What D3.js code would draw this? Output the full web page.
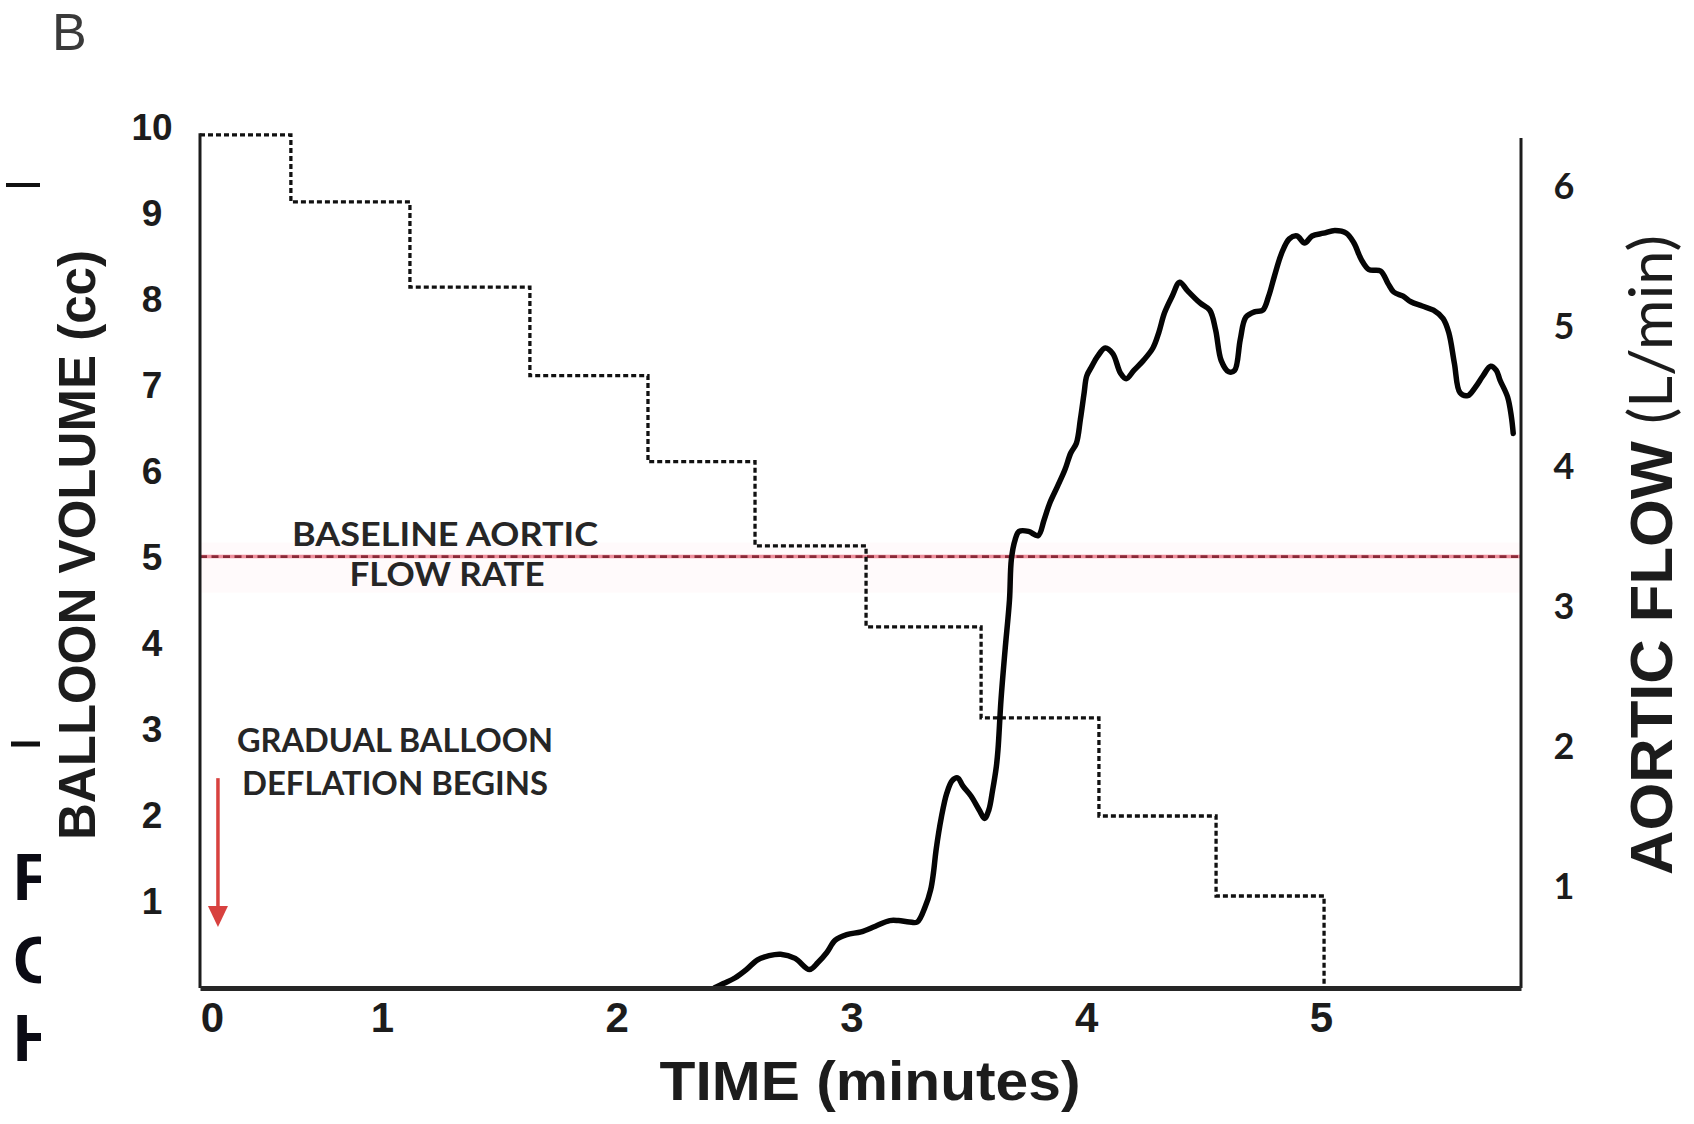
<!DOCTYPE html>
<html><head><meta charset="utf-8">
<script src="https://cdn.jsdelivr.net/npm/d3@7"></script>
<style>
html,body{margin:0;padding:0;background:#fff;}
svg{display:block;}
</style></head><body>
<svg id="chart" width="1694" height="1124"></svg>
<script>
// ---------- data ----------
const timeTicks = [0, 1, 2, 3, 4, 5];
const volumeTicks = [1, 2, 3, 4, 5, 6, 7, 8, 9, 10];
const flowTicks = [1, 2, 3, 4, 5, 6];

// balloon volume steps (time in minutes, volume in cc)
const stepTimes = [-0.07, 0.464, 1.119, 1.63, 2.133, 2.589, 3.062, 3.552, 4.054, 4.553, 5.013];
const stepVolumes = [9.92, 9.14, 8.15, 7.12, 6.12, 5.14, 4.2, 3.14, 2.0, 1.07, 0];

// aortic flow trace (time in minutes, flow in L/min)
const flowTime = [2.417, 2.454, 2.503, 2.552, 2.600, 2.649, 2.698, 2.760, 2.821, 2.857,
  2.894, 2.931, 2.980, 3.041, 3.102, 3.163, 3.200, 3.246, 3.280, 3.314,
  3.337, 3.349, 3.360, 3.383, 3.406, 3.429, 3.452, 3.475, 3.509, 3.544,
  3.567, 3.585, 3.601, 3.617, 3.624, 3.637, 3.654, 3.673, 3.681, 3.697,
  3.714, 3.754, 3.795, 3.820, 3.844, 3.877, 3.909, 3.934, 3.958, 3.975,
  3.991, 4.002, 4.024, 4.048, 4.081, 4.113, 4.146, 4.170, 4.203, 4.243,
  4.284, 4.309, 4.333, 4.366, 4.398, 4.431, 4.486, 4.526, 4.551, 4.575,
  4.607, 4.632, 4.656, 4.680, 4.720, 4.752, 4.777, 4.801, 4.833, 4.865,
  4.898, 4.930, 4.962, 5.011, 5.059, 5.108, 5.140, 5.172, 5.204, 5.253,
  5.285, 5.309, 5.349, 5.382, 5.430, 5.478, 5.519, 5.543, 5.567, 5.591,
  5.624, 5.656, 5.688, 5.721, 5.745, 5.761, 5.793, 5.809, 5.817];
const flowRate = [0.28, 0.31, 0.35, 0.41, 0.48, 0.51, 0.52, 0.49, 0.41, 0.46,
  0.53, 0.62, 0.66, 0.68, 0.72, 0.76, 0.76, 0.75, 0.75, 0.86,
  0.98, 1.10, 1.26, 1.50, 1.67, 1.76, 1.78, 1.72, 1.65, 1.55,
  1.49, 1.55, 1.69, 1.86, 1.98, 2.34, 2.69, 3.05, 3.34, 3.48,
  3.54, 3.54, 3.51, 3.62, 3.74, 3.86, 3.98, 4.10, 4.17, 4.34,
  4.53, 4.65, 4.72, 4.79, 4.85, 4.81, 4.67, 4.63, 4.69, 4.76,
  4.85, 4.96, 5.10, 5.22, 5.32, 5.26, 5.17, 5.12, 4.98, 4.76,
  4.68, 4.69, 4.91, 5.07, 5.11, 5.12, 5.22, 5.36, 5.53, 5.63,
  5.65, 5.60, 5.65, 5.67, 5.69, 5.67, 5.60, 5.48, 5.41, 5.40,
  5.31, 5.25, 5.22, 5.18, 5.15, 5.12, 5.06, 4.96, 4.74, 4.53,
  4.51, 4.57, 4.65, 4.72, 4.69, 4.62, 4.50, 4.36, 4.24];

const baselineFlow = 3.36;          // L/min
const arrowTime = 0.035;            // deflation start marker
const arrowVolumes = [2.44, 0.71];  // from, to (cc scale)
const timeExtent = [-0.07, 5.85];
const volumeTop = 9.94;
const flowTop = 6.35;

// ---------- scales ----------
const x = d3.scaleLinear().domain([timeExtent[0], 0, 1, 5, timeExtent[1]])
  .range([200, 212, 382, 1321, 1521]);
const yLeft = d3.scaleLinear().domain([0, 10]).range([988, 128]);
const yRight = d3.scaleLinear().domain([0, 6]).range([1027, 187]);

const svg = d3.select("#chart");
const ink = "#1c1c1c";
const yBottom = yLeft(0);
const flowBottom = yRight.invert(yBottom);

// very faint pink wash around baseline
svg.append("rect")
  .attr("x", x(timeExtent[0])).attr("width", x(timeExtent[1]) - x(timeExtent[0]))
  .attr("y", yRight(baselineFlow) - 14).attr("height", 50)
  .attr("fill", "#fffafb");

// ---------- page fragments on the left ----------
svg.append("text").attr("x", 52).attr("y", 50)
  .attr("font-family", "Liberation Sans, Arial, sans-serif").attr("font-size", 52)
  .attr("fill", "#3a3a3a").text("B");

svg.append("line").attr("x1", 6).attr("x2", 40).attr("y1", 185).attr("y2", 185)
  .attr("stroke", "#111").attr("stroke-width", 4);
svg.append("line").attr("x1", 11).attr("x2", 40).attr("y1", 744).attr("y2", 744)
  .attr("stroke", "#111").attr("stroke-width", 5);

svg.append("clipPath").attr("id", "frag").append("rect")
  .attr("x", 0).attr("y", 800).attr("width", 41).attr("height", 300);
const frag = svg.append("g").attr("clip-path", "url(#frag)")
  .attr("font-family", "Liberation Sans, Arial, sans-serif")
  .attr("font-weight", 700).attr("font-size", 66).attr("fill", "#0b0b14");
[["F", 900], ["C", 983], ["H", 1061]].forEach(([t, yy]) =>
  frag.append("text").attr("x", 13).attr("y", yy).text(t));

// ---------- baseline aortic flow ----------
svg.append("line")
  .attr("x1", x(timeExtent[0])).attr("x2", x(timeExtent[1]))
  .attr("y1", yRight(baselineFlow)).attr("y2", yRight(baselineFlow))
  .attr("stroke", "#ee8f9c").attr("stroke-width", 3.5);
svg.append("line")
  .attr("x1", x(timeExtent[0])).attr("x2", x(timeExtent[1]))
  .attr("y1", yRight(baselineFlow)).attr("y2", yRight(baselineFlow))
  .attr("stroke", "#8a2a38").attr("stroke-width", 2.6)
  .attr("stroke-dasharray", "7,4.5");

// ---------- balloon volume steps ----------
const stepData = stepTimes.map((t, i) => ({ t, v: stepVolumes[i] }));
svg.append("path").datum(stepData)
  .attr("fill", "none").attr("stroke", "#111").attr("stroke-width", 3.3)
  .attr("stroke-dasharray", "5,3")
  .attr("d", d3.line().x(d => x(d.t)).y(d => yLeft(d.v)).curve(d3.curveStepAfter));

// ---------- aortic flow trace ----------
const flowData = flowTime.map((t, i) => ({ t, f: flowRate[i] }));
svg.append("path").datum(flowData)
  .attr("fill", "none").attr("stroke", "#050505").attr("stroke-width", 5.5)
  .attr("stroke-linejoin", "round").attr("stroke-linecap", "round")
  .attr("d", d3.line().x(d => x(d.t)).y(d => yRight(d.f)).curve(d3.curveCatmullRom.alpha(0.5)));

// ---------- frame / axes ----------
svg.append("line")
  .attr("x1", x(timeExtent[0])).attr("x2", x(timeExtent[0]))
  .attr("y1", yBottom).attr("y2", yLeft(volumeTop))
  .attr("stroke", ink).attr("stroke-width", 3);
svg.append("line")
  .attr("x1", x(timeExtent[1])).attr("x2", x(timeExtent[1]))
  .attr("y1", yRight(flowBottom)).attr("y2", yRight(flowTop))
  .attr("stroke", ink).attr("stroke-width", 3);

const gx = svg.append("g").attr("transform", `translate(0,${yBottom})`)
  .call(d3.axisBottom(x).tickValues(timeTicks).tickFormat(d3.format("d"))
    .tickSize(0).tickSizeOuter(0).tickPadding(14));
gx.select(".domain").attr("stroke", "#262626").attr("stroke-width", 5);
gx.selectAll("text").attr("font-family", "Liberation Sans, Arial, sans-serif")
  .attr("font-weight", 700).attr("font-size", 42).attr("fill", ink);

const gl = svg.append("g").attr("transform", `translate(${x(timeExtent[0])},0)`)
  .call(d3.axisLeft(yLeft).tickValues(volumeTicks).tickFormat(d3.format("d")).tickSize(0));
gl.select(".domain").remove();
gl.selectAll("text").attr("x", -48).attr("text-anchor", "middle")
  .attr("font-family", "Liberation Sans, Arial, sans-serif")
  .attr("font-weight", 700).attr("font-size", 37).attr("fill", ink);

const gr = svg.append("g").attr("transform", `translate(${x(timeExtent[1])},0)`)
  .call(d3.axisRight(yRight).tickValues(flowTicks).tickFormat(d3.format("d")).tickSize(0));
gr.select(".domain").remove();
gr.selectAll("text").attr("x", 43).attr("text-anchor", "middle")
  .attr("font-family", "Lato, Liberation Sans, sans-serif")
  .attr("font-weight", 700).attr("font-size", 36).attr("fill", ink);

// ---------- axis titles ----------
svg.append("text").attr("x", 870).attr("y", 1100).attr("text-anchor", "middle")
  .attr("font-family", "Liberation Sans, Arial, sans-serif").attr("font-weight", 700)
  .attr("font-size", 56).attr("fill", ink)
  .attr("textLength", 421).attr("lengthAdjust", "spacingAndGlyphs")
  .text("TIME (minutes)");

svg.append("text").attr("transform", "translate(95,545) rotate(-90)")
  .attr("text-anchor", "middle")
  .attr("font-family", "Liberation Sans, Arial, sans-serif").attr("font-weight", 700)
  .attr("font-size", 51).attr("fill", ink)
  .attr("textLength", 590).attr("lengthAdjust", "spacingAndGlyphs")
  .text("BALLOON VOLUME (cc)");

const rt = svg.append("text").attr("transform", "translate(1672,555) rotate(-90)")
  .attr("text-anchor", "middle")
  .attr("font-family", "Liberation Sans, Arial, sans-serif")
  .attr("font-size", 60).attr("fill", ink)
  .attr("textLength", 640).attr("lengthAdjust", "spacingAndGlyphs");
rt.append("tspan").attr("font-weight", 700).text("AORTIC FLOW ");
rt.append("tspan").attr("font-family", "Lato, Liberation Sans, sans-serif").attr("font-weight", 400).text("(L/min)");

// ---------- annotations ----------
const annFont = "Lato, Open Sans, sans-serif";
const yb = yRight(baselineFlow);
[["BASELINE AORTIC", 445, yb - 11, 306], ["FLOW RATE", 447, yb + 29, 195]].forEach(([t, cx, cy, w]) =>
  svg.append("text").attr("x", cx).attr("y", cy).attr("text-anchor", "middle")
    .attr("font-family", annFont).attr("font-weight", 700).attr("font-size", 32)
    .attr("fill", "#262626").attr("textLength", w).attr("lengthAdjust", "spacingAndGlyphs").text(t));

const ax = x(arrowTime), ay1 = yLeft(arrowVolumes[0]), ay2 = yLeft(arrowVolumes[1]);
[["GRADUAL BALLOON", 395, ay1 - 26, 316], ["DEFLATION BEGINS", 395, ay1 + 17, 306]].forEach(([t, cx, cy, w]) =>
  svg.append("text").attr("x", cx).attr("y", cy).attr("text-anchor", "middle")
    .attr("font-family", annFont).attr("font-weight", 700).attr("font-size", 33)
    .attr("fill", "#262626").attr("textLength", w).attr("lengthAdjust", "spacingAndGlyphs").text(t));

svg.append("line").attr("x1", ax).attr("x2", ax).attr("y1", ay1).attr("y2", ay2 - 18)
  .attr("stroke", "#d8413f").attr("stroke-width", 3.5);
svg.append("path")
  .attr("d", `M${ax - 10},${ay2 - 21}L${ax + 10},${ay2 - 21}L${ax},${ay2}Z`)
  .attr("fill", "#d8413f");
</script>
</body></html>
